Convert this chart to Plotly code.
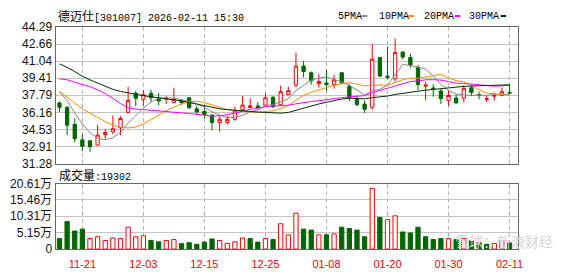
import plotly.graph_objects as go

W, H = 578, 276

dates = ["11-18", "11-19", "11-20", "11-21", "11-24", "11-25", "11-26", "11-27", "11-28",
         "12-01", "12-02", "12-03", "12-04", "12-05", "12-08", "12-09", "12-10", "12-11", "12-12",
         "12-15", "12-16", "12-17", "12-18", "12-19", "12-22", "12-23", "12-24", "12-25", "12-26",
         "12-29", "12-30", "12-31", "01-05", "01-06", "01-07", "01-08", "01-09", "01-12", "01-13",
         "01-14", "01-15", "01-16", "01-19", "01-20", "01-21", "01-22", "01-23", "01-26", "01-27",
         "01-28", "01-29", "01-30", "02-02", "02-03", "02-04", "02-05", "02-06", "02-09", "02-10",
         "02-11"]
tick_labels = ["11-21", "12-03", "12-15", "12-25", "01-08", "01-20", "01-30", "02-11"]

opens = [37.06, 36.65, 35.00, 33.54, 33.45, 33.05, 34.05, 34.30, 34.70, 36.16,
         37.98, 37.40, 37.97, 37.45, 37.42, 37.10, 37.25, 37.55, 36.50, 36.25,
         35.90, 35.20, 35.20, 35.50, 36.40, 36.62, 36.77, 36.85, 37.60, 36.88,
         37.85, 38.75, 40.56, 39.93, 38.90, 38.95, 38.82, 39.93, 38.63, 37.38,
         36.95, 36.65, 41.37, 39.60, 39.35, 41.90, 41.37, 40.45, 38.65, 38.48,
         38.20, 37.30, 37.52, 37.50, 38.50, 37.85, 37.40, 37.70, 37.76, 38.06]
highs = [37.20, 36.72, 35.60, 34.10, 33.50, 34.95, 34.60, 35.87, 35.80, 38.60,
         38.20, 38.30, 38.30, 38.00, 37.70, 38.50, 37.45, 37.60, 36.80, 36.80,
         35.95, 35.80, 35.80, 36.70, 37.70, 37.50, 37.15, 38.00, 37.70, 38.72,
         38.60, 41.85, 41.05, 40.05, 39.80, 40.20, 39.70, 39.95, 38.85, 37.76,
         37.30, 42.65, 41.40, 42.42, 43.20, 41.95, 41.75, 40.65, 39.05, 38.85,
         38.40, 38.30, 37.85, 38.75, 38.75, 38.15, 37.75, 38.06, 38.50, 38.85]
lows = [36.20, 34.00, 33.30, 32.48, 32.40, 33.00, 33.60, 34.10, 34.00, 36.10,
        36.75, 36.80, 37.15, 36.85, 36.95, 37.05, 36.90, 36.50, 35.90, 35.60,
        34.45, 34.30, 35.00, 35.35, 36.30, 36.55, 36.45, 36.75, 36.55, 36.77,
        37.80, 38.55, 39.50, 38.80, 38.50, 38.20, 38.40, 38.80, 37.20, 36.72,
        36.10, 36.40, 39.50, 39.30, 39.10, 41.20, 40.40, 38.30, 37.30, 37.65,
        36.95, 36.78, 37.00, 37.10, 37.70, 37.40, 37.15, 37.28, 37.70, 37.88]
closes = [36.64, 34.93, 33.65, 32.93, 32.90, 34.00, 34.25, 34.60, 35.57, 37.30,
          37.50, 37.85, 37.55, 37.25, 37.50, 37.40, 37.10, 36.60, 36.20, 35.95,
          35.20, 35.50, 35.50, 36.30, 36.85, 36.78, 36.62, 37.55, 36.70, 38.13,
          38.22, 40.56, 40.05, 39.17, 39.10, 38.80, 39.25, 38.97, 37.57, 36.90,
          36.45, 41.22, 39.62, 39.50, 41.85, 41.42, 40.68, 38.81, 38.75, 38.40,
          37.48, 37.76, 37.06, 38.45, 38.06, 37.80, 37.45, 37.76, 38.12, 38.00]

ma5 = [38.11, 37.30, 36.10, 35.04, 34.21, 33.68, 33.55, 33.74, 34.26, 35.14,
       35.84, 36.56, 37.15, 37.49, 37.53, 37.51, 37.36, 37.17, 36.96, 36.65,
       36.21, 35.89, 35.67, 35.69, 35.87, 36.19, 36.41, 36.82, 36.90, 37.16,
       37.44, 38.23, 38.73, 39.23, 39.42, 39.54, 39.27, 39.06, 38.74, 38.30,
       37.83, 38.22, 38.35, 38.74, 39.73, 40.72, 40.61, 40.45, 40.30, 39.61,
       38.82, 38.24, 37.89, 37.83, 37.76, 37.83, 37.76, 37.90, 37.84, 37.83]
ma10 = [38.15, 37.60, 37.00, 36.49, 36.10, 35.65, 35.28, 34.95, 34.75, 34.68,
        34.76, 35.06, 35.45, 35.88, 36.34, 36.68, 36.96, 37.16, 37.23, 37.09,
        36.86, 36.63, 36.42, 36.33, 36.26, 36.20, 36.15, 36.25, 36.30, 36.51,
        36.82, 37.32, 37.78, 38.06, 38.29, 38.49, 38.75, 38.90, 38.98, 38.86,
        38.68, 38.75, 38.71, 38.74, 39.01, 39.27, 39.42, 39.40, 39.52, 39.67,
        39.77, 39.44, 39.18, 39.08, 38.69, 38.33, 38.00, 37.90, 37.83, 37.79]
ma20 = [39.35, 39.26, 39.02, 38.80, 38.60, 38.30, 37.95, 37.50, 37.00, 36.60,
        36.47, 36.42, 36.37, 36.30, 36.24, 36.18, 36.12, 36.05, 35.97, 35.88,
        35.81, 35.84, 35.93, 36.10, 36.30, 36.44, 36.56, 36.70, 36.76, 36.80,
        36.84, 36.97, 37.10, 37.19, 37.27, 37.34, 37.45, 37.57, 37.64, 37.69,
        37.75, 38.03, 38.24, 38.40, 38.66, 38.89, 39.09, 39.15, 39.26, 39.27,
        39.23, 39.09, 38.94, 38.91, 38.85, 38.80, 38.71, 38.65, 38.68, 38.74]
ma30 = [40.77, 40.45, 40.05, 39.60, 39.25, 38.95, 38.65, 38.35, 38.15, 38.00,
        37.85, 37.75, 37.65, 37.56, 37.47, 37.37, 37.25, 37.10, 36.95, 36.78,
        36.62, 36.50, 36.42, 36.35, 36.29, 36.24, 36.19, 36.15, 36.12, 36.09,
        36.15, 36.33, 36.55, 36.76, 36.96, 37.12, 37.29, 37.43, 37.50, 37.49,
        37.45, 37.56, 37.63, 37.71, 37.86, 37.99, 38.11, 38.18, 38.27, 38.35,
        38.43, 38.50, 38.55, 38.63, 38.67, 38.70, 38.73, 38.73, 38.78, 38.78]

volumes = [3.29, 8.66, 5.68, 6.27, 3.29, 3.88, 2.69, 3.49, 3.29, 6.87,
           3.88, 4.18, 2.69, 2.29, 2.69, 2.99, 1.69, 1.99, 1.49, 2.19,
           3.19, 2.69, 1.79, 2.29, 3.49, 3.29, 2.19, 3.29, 2.99, 7.97,
           4.48, 11.25, 6.27, 5.97, 4.48, 4.48, 4.78, 6.87, 6.47, 5.97,
           3.88, 19.12, 9.96, 9.26, 10.45, 5.38, 5.08, 6.87, 3.88, 2.99,
           3.29, 3.29, 2.99, 3.29, 2.69, 2.09, 1.49, 1.79, 2.69, 1.93]
vol_up = [0, 0, 0, 0, 1, 1, 1, 1, 1, 1,
          1, 1, 0, 0, 1, 1, 0, 0, 0, 0,
          0, 1, 1, 1, 1, 0, 0, 1, 0, 1,
          1, 1, 0, 0, 1, 0, 1, 0, 0, 0,
          0, 1, 0, 1, 1, 0, 0, 0, 0, 0,
          0, 1, 0, 1, 0, 0, 0, 1, 1, 0]

price_ticks = [31.28, 32.91, 34.53, 36.16, 37.79, 39.41, 41.04, 42.66, 44.29]
vol_ticks = [0, 5.15, 10.31, 15.46, 20.61]
vol_tick_text = ["0", "5.15万", "10.31万", "15.46万", "20.61万"]

RED = "#ff0000"
GREEN = "#006600"
xs = list(range(len(dates)))
tickvals = [dates.index(t) for t in tick_labels]
xrange = [-0.52, 60.17]


def px(x):
    return x / W


def py(y):
    return 1 - y / H


fig = go.Figure()
fig.add_trace(go.Candlestick(
    x=xs, open=opens, high=highs, low=lows, close=closes,
    increasing=dict(line=dict(color=RED, width=1), fillcolor="#ffffff"),
    decreasing=dict(line=dict(color=GREEN, width=1), fillcolor=GREEN),
    whiskerwidth=0, xaxis="x", yaxis="y", showlegend=False, hoverinfo="skip"))

ma_specs = [(ma5, "#888888"), (ma10, "#ff8c00"), (ma20, "#ff00ff"), (ma30, "#003300")]
for vals, col in ma_specs:
    fig.add_trace(go.Scatter(x=xs, y=vals, mode="lines", line=dict(color=col, width=1),
                             xaxis="x", yaxis="y", showlegend=False, hoverinfo="skip"))

fig.add_trace(go.Bar(
    x=xs, y=volumes,
    marker=dict(color=["#ffffff" if u else GREEN for u in vol_up],
                line=dict(color=[RED if u else GREEN for u in vol_up], width=1)),
    xaxis="x2", yaxis="y2", showlegend=False, hoverinfo="skip"))

axis_common = dict(showline=True, mirror=True, linecolor="#666666", linewidth=1,
                   zeroline=False, ticks="")
xdom = [px(56), px(523)]
fig.update_layout(
    width=W, height=H, margin=dict(l=0, r=0, t=0, b=0),
    paper_bgcolor="#ffffff", plot_bgcolor="#ffffff",
    boxgap=0.38, bargap=0.44, showlegend=False,
    xaxis=dict(domain=xdom, range=xrange, anchor="y", tickvals=tickvals,
               showticklabels=False, showgrid=True, gridcolor="#b4b4b4",
               griddash="4px,3px", gridwidth=1, rangeslider=dict(visible=False),
               **axis_common),
    yaxis=dict(domain=[py(165), py(21)], range=[31.28, 44.29], anchor="x",
               tickvals=price_ticks, ticktext=[f"{v:.2f}" for v in price_ticks],
               showgrid=True, gridcolor="#c4c4c4", gridwidth=1,
               tickfont=dict(family="Liberation Sans", size=12, color="#111111"),
               **axis_common),
    xaxis2=dict(domain=xdom, range=xrange, anchor="y2", tickvals=tickvals,
                ticktext=tick_labels, showgrid=True, gridcolor="#b4b4b4",
                griddash="4px,3px", gridwidth=1, ticklabelstandoff=5,
                tickfont=dict(family="Liberation Sans", size=11, color=RED),
                **axis_common),
    yaxis2=dict(domain=[py(255), py(186)], range=[0, 20.61], anchor="x2",
                tickvals=vol_ticks, ticktext=vol_tick_text,
                showgrid=True, gridcolor="#c4c4c4", gridwidth=1,
                tickfont=dict(family="Liberation Sans, Noto Sans CJK SC", size=12, color="#111111"),
                **axis_common),
)

annotations = [
    dict(x=px(56), y=py(9), xref="paper", yref="paper", xanchor="left", yanchor="middle",
         showarrow=False,
         text='德迈仕<span style="font-family:Liberation Mono;font-size:10px">[301007] 2026-02-11 15:30</span>',
         font=dict(family="Noto Sans CJK SC", size=12, color="#000000")),
    dict(x=px(57), y=py(176.5), xref="paper", yref="paper", xanchor="left", yanchor="middle",
         showarrow=False,
         text='成交量<span style="font-family:Liberation Mono;font-size:10px">:19302</span>',
         font=dict(family="Noto Sans CJK SC", size=12, color="#000000")),
    dict(x=px(560), y=py(247), xref="paper", yref="paper", xanchor="right", yanchor="middle",
         showarrow=False, text="雪球：新浪财经",
         font=dict(family="Noto Sans CJK SC", size=14, color="#d4d4d4")),
]
legend_items = [("5PMA", 338.7, 365, "#888888"), ("10PMA", 380.7, 412, "#ff8c00"),
                ("20PMA", 425.7, 458.7, "#ff00ff"), ("30PMA", 471, 505, "#003300")]
shapes = []
for label, tx, lx, col in legend_items:
    annotations.append(dict(x=px(tx), y=py(9.5), xref="paper", yref="paper",
                            xanchor="left", yanchor="middle", showarrow=False, text=label,
                            font=dict(family="Liberation Mono", size=10, color="#000000")))
    shapes.append(dict(type="line", xref="paper", yref="paper", x0=px(lx), x1=px(lx + 5.5),
                       y0=py(9.5), y1=py(9.5), line=dict(color=col, width=2)))
fig.update_layout(annotations=annotations, shapes=shapes)

fig.write_html("out.html")
